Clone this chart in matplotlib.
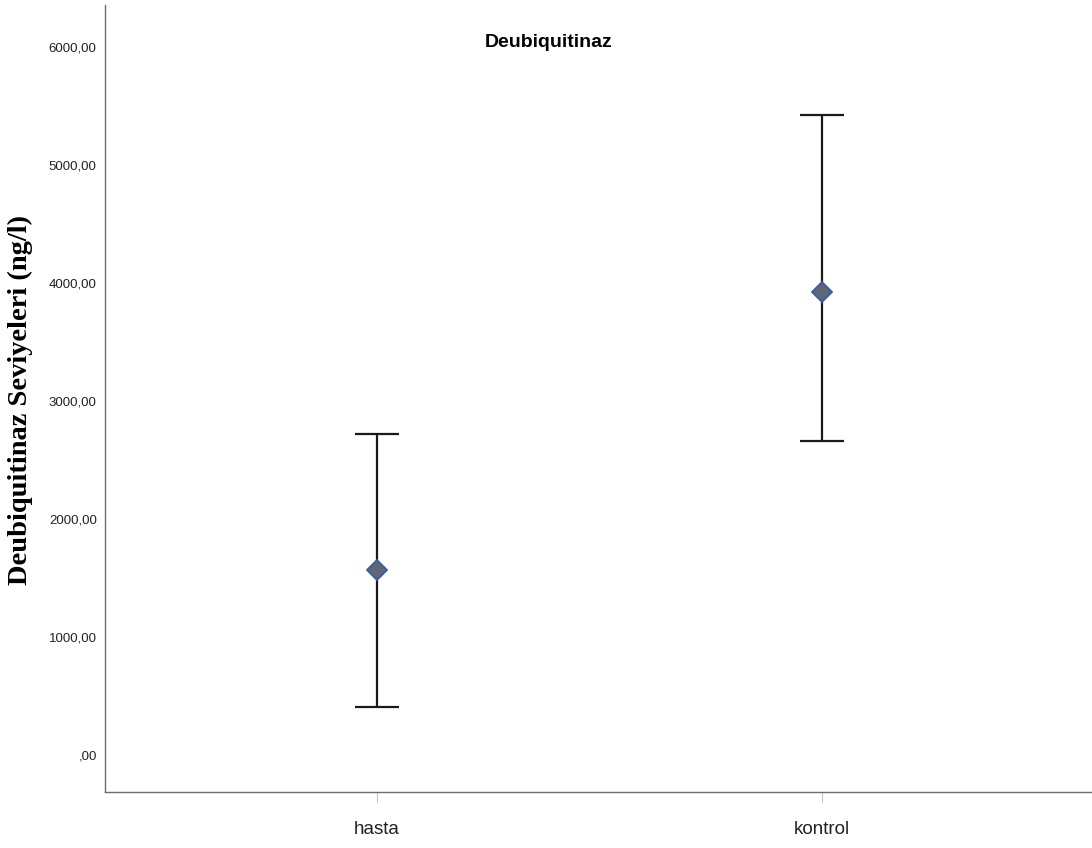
import matplotlib.pyplot as plt
import numpy as np

groups = ['hasta', 'kontrol']
means = [1568, 3924]
upper = [2720, 5424]
lower = [407, 2661]
yticks = [0, 1000, 2000, 3000, 4000, 5000, 6000]
ylabels = [',00', '1000,00', '2000,00', '3000,00', '4000,00', '5000,00', '6000,00']

fig = plt.figure(figsize=(10.92, 8.48), dpi=100)
ax = fig.add_axes([0.0962, 0.066, 0.9038, 0.928])

x = np.arange(len(groups))
m = np.array(means)
err = [m - np.array(lower), np.array(upper) - m]
ax.errorbar(x, m, yerr=err, fmt='none', ecolor='#1a1a1a', elinewidth=1.6,
            capsize=16, capthick=1.6)
ax.plot(x, m, 'D', markersize=10, markerfacecolor='#5f6675',
        markeredgecolor='#3c5aa6', markeredgewidth=1.3, zorder=3)

ax.set_xlim(-0.611, 1.607)
ax.set_ylim(-313, 6356)
ax.set_xticks(x)
ax.set_xticklabels(groups, fontsize=13.5, family='Liberation Sans', color='#222222')
ax.set_yticks(yticks)
ax.set_yticklabels(ylabels, fontsize=9.5, family='Liberation Sans', color='#222222')
ax.tick_params(axis='y', length=0, pad=6)
ax.tick_params(axis='x', length=7, color='#c0c0c0', pad=14)

for s in ['top', 'right']:
    ax.spines[s].set_visible(False)
for s in ['left', 'bottom']:
    ax.spines[s].set_color('#6e6e6e')
    ax.spines[s].set_linewidth(1.0)

fig.text(20 / 1092, 1 - 400 / 848, 'Deubiquitinaz Seviyeleri (ng/l)', rotation=90,
         ha='center', va='center', fontsize=20.5, fontweight='bold',
         family='Liberation Serif')
ax.text(0.449, 0.953, 'Deubiquitinaz', transform=ax.transAxes, ha='center',
        va='center', fontsize=14, fontweight='bold', family='Liberation Sans')

fig.savefig('out.png', dpi=100)
